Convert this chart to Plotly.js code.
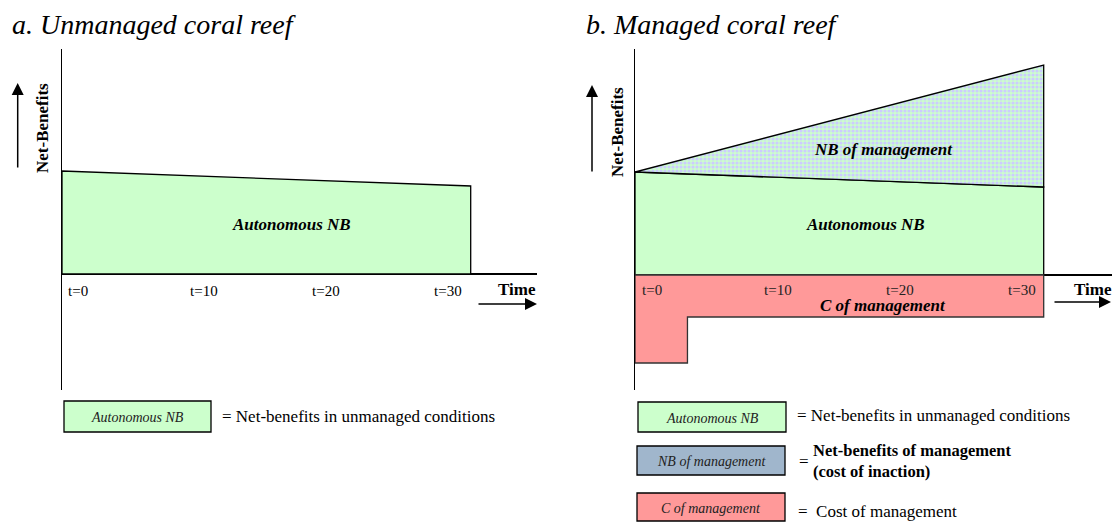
<!DOCTYPE html>
<html><head><meta charset="utf-8">
<script src="https://cdn.plot.ly/plotly-3.0.1.min.js"></script>
<style>html,body{margin:0;padding:0;background:#fff}</style>
</head><body><div id="chart" style="width:1112px;height:522px"></div>
<script>
// ---- data (conceptual units: time in years, net-benefits in arbitrary units) ----
const horizon = 33.5;                 // end of the time horizon shown
const startupEnd = 4.3;               // end of the initial (start-up) cost period
const autonomousNB = [10.3, 8.8];     // net-benefits without management at t=0 and at horizon
const managedNB = [10.3, 21.0];       // net-benefits with management at t=0 and at horizon
const costOfManagement = [-8.8, -4.2];// start-up cost, running cost
const tickValues = [0, 10, 20, 30];
const tickLabels = ['t=0', 't=10', 't=20', 't=30'];

const W = 1112, H = 522;
const SERIF = 'Liberation Serif, Times New Roman, serif';
const px = v => v / W, py = v => 1 - v / H;

// ---- traces ----
function greenArea(xa, ya) {
  return {
    type: 'scatter', mode: 'lines', xaxis: xa, yaxis: ya, hoverinfo: 'skip',
    x: [0, horizon, horizon, 0, 0],
    y: [autonomousNB[0], autonomousNB[1], 0, 0, autonomousNB[0]],
    fill: 'toself', fillcolor: '#ccffcc',
    line: {color: '#000', width: 1.3}
  };
}
const nbManagement = {
  type: 'scatter', mode: 'lines', xaxis: 'x2', yaxis: 'y2', hoverinfo: 'skip',
  x: [0, horizon, horizon, 0, 0],
  y: [managedNB[0], managedNB[1], autonomousNB[1], autonomousNB[0], managedNB[0]],
  fill: 'toself', fillcolor: '#ccffcc',
  fillpattern: {shape: '.', bgcolor: '#ccffcc', fgcolor: '#ccccff', size: 4, solidity: 0.5},
  line: {color: '#000', width: 1.3}
};
const costArea = {
  type: 'scatter', mode: 'lines', xaxis: 'x2', yaxis: 'y2', hoverinfo: 'skip',
  x: [0, horizon, horizon, startupEnd, startupEnd, 0, 0],
  y: [0, 0, costOfManagement[1], costOfManagement[1], costOfManagement[0], costOfManagement[0], 0],
  fill: 'toself', fillcolor: '#ff9999',
  line: {color: '#333', width: 1.3}
};
const traces = [greenArea('x', 'y'), greenArea('x2', 'y2'), nbManagement, costArea];

// ---- axes ----
const scaleX = 12.2, scaleY = 10;
function xax(l, r) {
  return {domain: [px(l), px(r)], range: [0, (r - l) / scaleX], showgrid: false, zeroline: false,
          showline: false, showticklabels: false, ticks: '', fixedrange: true};
}
function yax(base, anchor) {
  return {domain: [py(390), py(49)], range: [(base - 390) / scaleY, (base - 49) / scaleY],
          anchor: anchor, showgrid: false, showticklabels: false, ticks: '',
          zeroline: true, zerolinecolor: '#000', zerolinewidth: 2,
          showline: true, linecolor: '#000', linewidth: 1.5, fixedrange: true};
}

// ---- annotations ----
const ann = [];
function txt(text, x, y, o) {
  ann.push(Object.assign({text: text, x: px(x), y: py(y), xref: 'paper', yref: 'paper',
    showarrow: false, xanchor: 'left', yanchor: 'middle',
    font: {family: SERIF, size: 17, color: '#000'}}, o || {}));
}
function arrow(x, y, ax, ay) {
  ann.push({text: '', x: px(x), y: py(y), xref: 'paper', yref: 'paper', showarrow: true,
    ax: ax, ay: ay, arrowhead: 2, arrowsize: 1.6, arrowwidth: 1.5, arrowcolor: '#000'});
}
// titles
txt('<i>a. Unmanaged coral reef</i>', 10, 25, {font: {family: SERIF, size: 28, color: '#000'}});
txt('<i>b. Managed coral reef</i>', 584, 25, {font: {family: SERIF, size: 28, color: '#000'}});
// y-axis labels + arrows
txt('<b>Net-Benefits</b>', 43, 128, {textangle: -90, xanchor: 'center', font: {family: SERIF, size: 17, color: '#000'}});
txt('<b>Net-Benefits</b>', 617, 132, {textangle: -90, xanchor: 'center', font: {family: SERIF, size: 17, color: '#000'}});
arrow(17.7, 83, 0, 86);
arrow(592, 85, 0, 88);
// time labels + arrows
txt('<b>Time</b>', 496, 289);
txt('<b>Time</b>', 1072, 289);
arrow(537, 304, -60, 0);
arrow(1111, 302, -58, 0);
// tick labels from data
tickValues.forEach((t, i) => {
  ann.push({text: tickLabels[i], x: t, y: -1.7, xref: 'x', yref: 'y', xanchor: 'left', yanchor: 'middle',
    xshift: 4, showarrow: false, font: {family: SERIF, size: 15, color: '#000'}});
  ann.push({text: tickLabels[i], x: t, y: -1.5, xref: 'x2', yref: 'y2', xanchor: 'left', yanchor: 'middle',
    xshift: 5, showarrow: false, font: {family: SERIF, size: 15, color: '#222'}});
});
// region labels
const bi = {family: SERIF, size: 17, color: '#000'};
ann.push({text: '<b><i>Autonomous NB</i></b>', x: 18.8, y: 5.0, xref: 'x', yref: 'y', showarrow: false, font: bi});
ann.push({text: '<b><i>Autonomous NB</i></b>', x: 18.9, y: 5.1, xref: 'x2', yref: 'y2', showarrow: false, font: bi});
ann.push({text: '<b><i>NB of management</i></b>', x: 20.4, y: 12.6, xref: 'x2', yref: 'y2', showarrow: false, font: bi});
ann.push({text: '<b><i>C of management</i></b>', x: 20.3, y: -3.0, xref: 'x2', yref: 'y2', showarrow: false, font: bi});

// ---- legend boxes ----
const shapes = [];
function box(x0, y0, x1, y1, fill, label) {
  shapes.push({type: 'rect', xref: 'paper', yref: 'paper', x0: px(x0), x1: px(x1), y0: py(y1), y1: py(y0),
    fillcolor: fill, line: {color: '#000', width: 1.3}, layer: 'above'});
  txt('<i>' + label + '</i>', (x0 + x1) / 2, (y0 + y1) / 2 + 1,
    {xanchor: 'center', font: {family: SERIF, size: 14, color: '#222'}});
}
box(64, 401, 211, 432, '#ccffcc', 'Autonomous NB');
txt('= Net-benefits in unmanaged conditions', 220, 416);
box(638, 402, 786, 432, '#ccffcc', 'Autonomous NB');
txt('= Net-benefits in unmanaged conditions', 795, 415);
box(637, 446, 785, 475, '#a0b6cc', 'NB of management');
txt('=', 797, 461);
txt('<b>Net-benefits of management</b>', 811, 450, {font: {family: SERIF, size: 16.5, color: '#000'}});
txt('<b>(cost of inaction)</b>', 811, 471, {font: {family: SERIF, size: 16.5, color: '#000'}});
box(637, 493, 785, 521, '#ff9999', 'C of management');
txt('=  Cost of management', 796, 511);

const layout = {
  width: W, height: H, margin: {l: 0, r: 0, t: 0, b: 0},
  paper_bgcolor: '#fff', plot_bgcolor: 'rgba(0,0,0,0)', showlegend: false,
  xaxis: xax(62, 537), yaxis: yax(274, 'x'),
  xaxis2: xax(635, 1112), yaxis2: yax(275, 'x2'),
  annotations: ann, shapes: shapes
};
Plotly.newPlot('chart', traces, layout, {staticPlot: true, displayModeBar: false});
</script>
</body></html>
